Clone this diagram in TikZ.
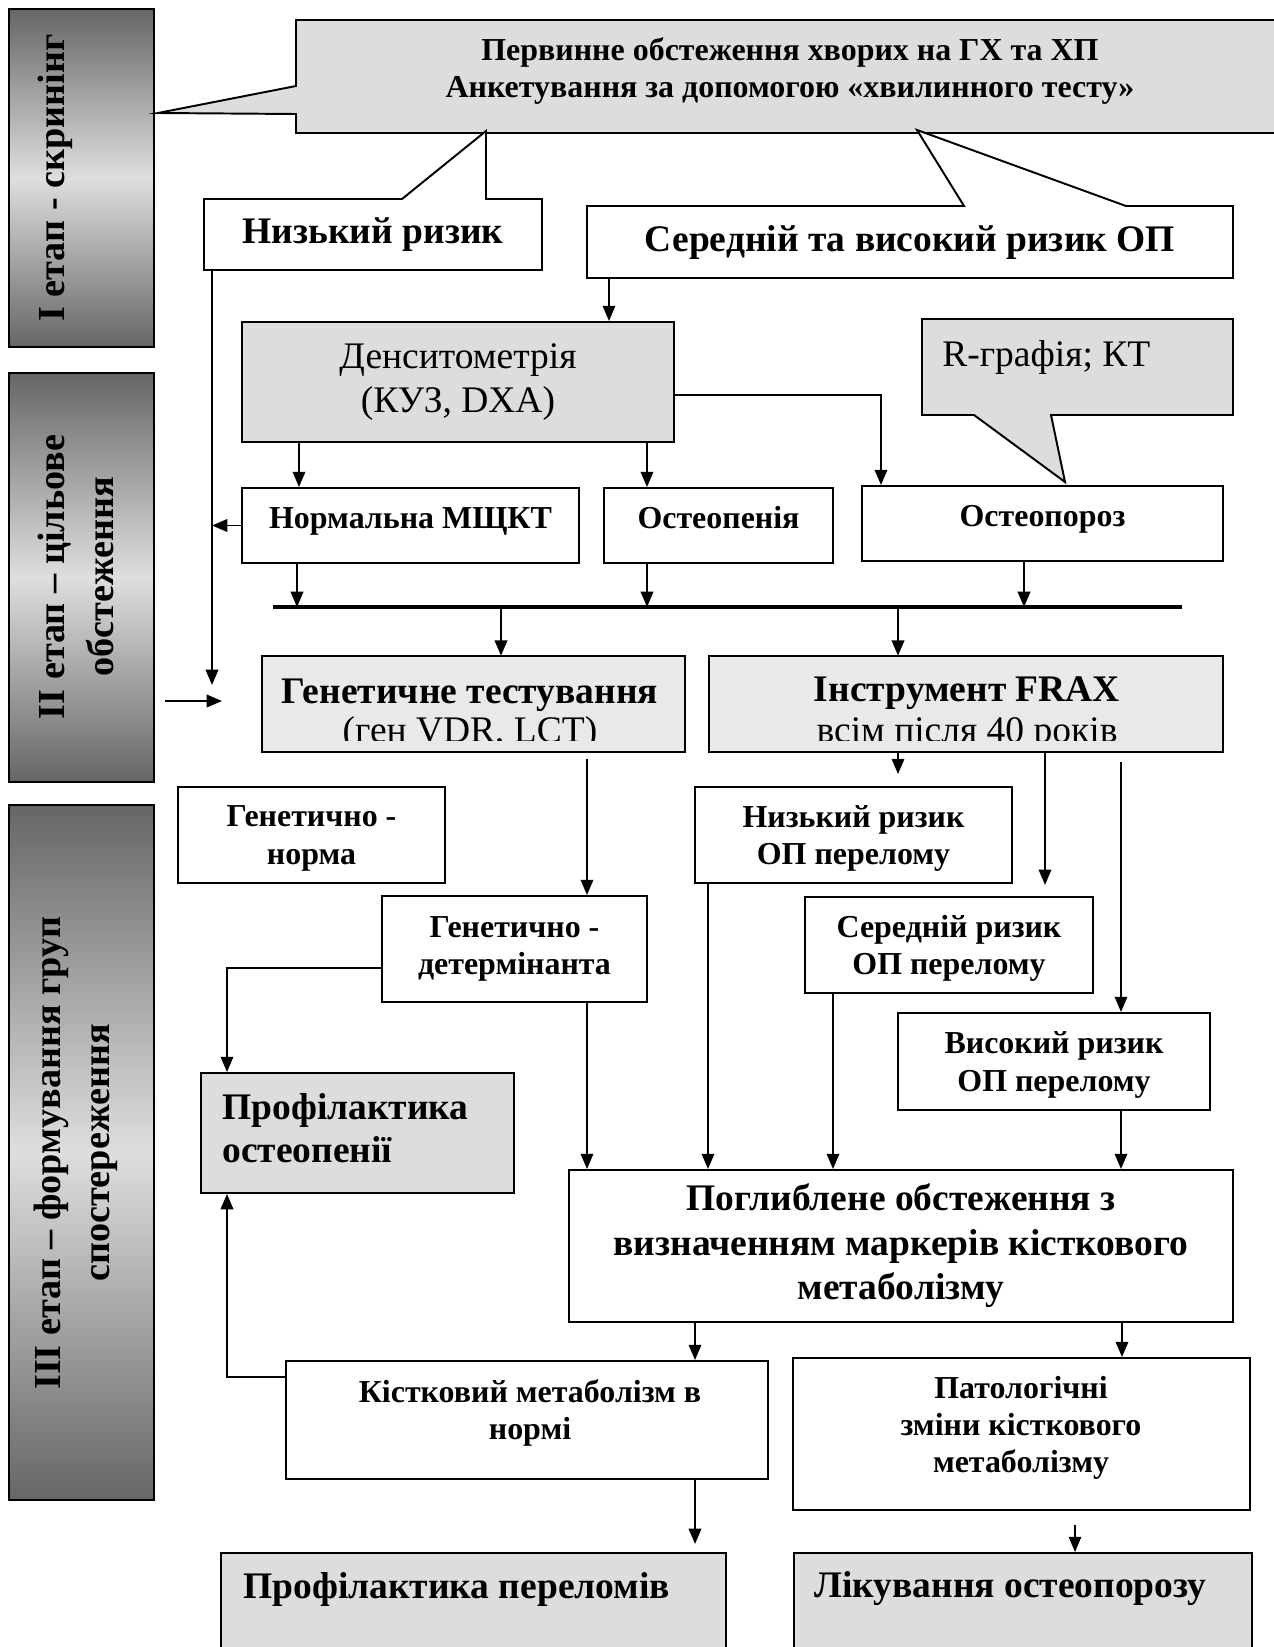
\documentclass[tikz,border=0pt]{standalone}
\usepackage{fontspec}
\setmainfont{Liberation Serif}
\usepackage{xcolor}
\usepackage{tikz}
\usetikzlibrary{arrows.meta,calc,fit}
\definecolor{stagedark}{RGB}{102,102,102}
\definecolor{stagelight}{RGB}{222,222,222}
\definecolor{boxgray}{RGB}{221,221,221}
\definecolor{testgray}{RGB}{233,233,233}

\begin{document}
\begin{tikzpicture}[x=0.72pt,y=-0.72pt,
    every node/.style={inner sep=0pt},
    wh/.style 2 args={minimum width=#1*0.72pt,minimum height=#2*0.72pt},
    box/.style={draw,line width=1.4pt,fill=white},
    graybox/.style={box,fill=boxgray},
    stage/.style={draw,line width=1.4pt,shading=axis,top color=stagedark,bottom color=stagedark,middle color=stagelight},
    stagetext/.style={rotate=90,align=center,font=\fontsize{27.5}{35}\selectfont\bfseries},
    arr/.style={line width=1.4pt,-{Triangle[length=11pt,width=9pt]}},
    big/.style={align=center,font=\fontsize{27}{32}\selectfont\bfseries},
    mid/.style={align=center,font=\fontsize{23}{27}\selectfont\bfseries},
    oneline/.style={text height=16pt,text depth=11pt}]
    \fill[white] (0,0) rectangle (1274,1647);
    \useasboundingbox (0,0) rectangle (1274,1647);

    % stages
    \node[stage,fit={(9,9) (154,347)}] (stage1) {};
    \node[stagetext] (stage1-t) at (55,178) {I етап - скринінг};
    \node[stage,fit={(9,373) (154,782)}] (stage2) {};
    \node[stagetext] (stage2-t) at (76,577) {II етап – цільове\\обстеження};
    \node[stage,fit={(9,805) (154,1500)}] (stage3) {};
    \node[stagetext] (stage3-t) at (76,1153) {III етап – формування груп\\спостереження};

    % screening
    \filldraw[fill=boxgray,line width=1.4pt] (296,20) -- (1290,20) -- (1290,133) -- (296,133) -- (296,114) -- (158,113) -- (296,86) -- cycle;
    \node[align=center,font=\fontsize{23}{26.6}\selectfont\bfseries] (screen) at (790,71) {Первинне обстеження хворих на ГХ та ХП\\Анкетування за допомогою «хвилинного тесту»};
    \filldraw[fill=white,line width=1.4pt] (204,199) -- (402,199) -- (486,131) -- (486,199) -- (542,199) -- (542,270) -- (204,270) -- cycle;
    \node[big,wh={338}{71}] (lowrisk) at (373,234.5) {Низький ризик};
    \filldraw[fill=white,line width=1.4pt] (587,206) -- (964,206) -- (917,130) -- (1126,206) -- (1233,206) -- (1233,278) -- (587,278) -- cycle;
    \node[big,wh={646}{72}] (midrisk) at (910,242) {Середній та високий ризик ОП};

    % densitometry
    \node[graybox,wh={432}{120},align=center,font=\fontsize{27}{31.7}\selectfont] (densi) at (458,382) {Денситометрія\\(КУЗ, DXA)};
    \filldraw[fill=boxgray,line width=1.4pt] (922,319) -- (1233,319) -- (1233,415) -- (1051,415) -- (1065,482) -- (974,415) -- (922,415) -- cycle;
    \node[anchor=west,font=\fontsize{27}{32}\selectfont] (rgraph) at (942,357) {R-графія; КТ};
    \node[box,mid,oneline,wh={337}{75}] (normal) at (410.5,525.5) {Нормальна МЩКТ};
    \node[box,mid,oneline,wh={229}{75}] (openia) at (718.5,525.5) {Остеопенія};
    \node[box,mid,oneline,wh={361}{75}] (oporoz) at (1042.5,523.5) {Остеопороз};
    \coordinate (busL) at (273,607);
    \coordinate (busR) at (1182,607);
    \draw[line width=3pt] (busL) -- (busR);

    \node[fill=testgray,fit={(262,656) (685,752)}] (gentest) {};
    \begin{scope}
      \clip (262,656) rectangle (685,740);
      \node[big,anchor=base,font=\fontsize{27}{28}\selectfont\bfseries] (gentest-t) at (470,742) {Генетичне тестування\\\mdseries (ген VDR, LCT)};
    \end{scope}
    \draw[line width=1.4pt] (gentest.north west) rectangle (gentest.south east);
    \node[fill=testgray,fit={(709,656) (1223,752)}] (frax) {};
    \begin{scope}
      \clip (709,656) rectangle (1223,740);
      \node[big,anchor=base,font=\fontsize{27}{29.5}\selectfont\bfseries] (frax-t) at (967,742) {Інструмент FRAX\\\mdseries всім після 40 років};
    \end{scope}
    \draw[line width=1.4pt] (frax.north west) rectangle (frax.south east);

    % groups
    \node[box,mid,text depth=0pt,wh={267}{96}] (gennorm) at (311.5,835) {Генетично -\\норма};
    \node[box,mid,wh={265}{106}] (gendet) at (514.5,949) {Генетично -\\детермінанта};
    \node[box,mid,text depth=0pt,wh={317}{96}] (lowfr) at (853.5,835) {Низький ризик\\ОП перелому};
    \node[box,mid,text depth=0pt,wh={288}{96}] (midfr) at (949,945) {Середній ризик\\ОП перелому};
    \node[box,mid,text depth=0pt,wh={312}{97}] (highfr) at (1054,1061.5) {Високий ризик\\ОП перелому};
    \node[graybox,fit={(201,1073) (514,1193)}] (prevop) {};
    \node[big,align=left,anchor=west,font=\fontsize{27}{31}\selectfont\bfseries] (prevop-t) at (222,1128) {Профілактика\\остеопенії};
    \node[box,big,wh={664}{152}] (deepex) at (901,1246) {Поглиблене обстеження з\\визначенням маркерів кісткового\\метаболізму};
    \node[box,fit={(286,1361) (768,1479)}] (bmnorm) {};
    \node[mid,font=\fontsize{23}{26}\selectfont\bfseries] (bmnorm-t) at (530,1413) {Кістковий метаболізм в\\нормі};
    \node[box,fit={(793,1358) (1250,1510)}] (pathol) {};
    \node[mid,font=\fontsize{23}{26.6}\selectfont\bfseries] (pathol-t) at (1021,1428) {Патологічні\\зміни кісткового\\метаболізму};
    \node[graybox,fit={(221,1553) (726,1665)}] (prevfr) {};
    \node[big,anchor=west] (prevfr-t) at (243,1589) {Профілактика переломів};
    \node[graybox,fit={(794,1553) (1252,1665)}] (treat) {};
    \node[big,anchor=west] (treat-t) at (814,1589) {Лікування остеопорозу};

    % connectors
    \coordinate (lowend) at (212,685);
    \coordinate (stagein) at (165,701);
    \coordinate (stageout) at (222,701);
    \draw[arr] (609,0 |- midrisk.south) -- (609,0 |- densi.north);
    \draw[arr] (212,0 |- lowrisk.south) -- (lowend);
    \draw[arr] (normal.west) -- (212,0 |- normal.west);
    \draw[arr] (stagein) -- (stageout);
    \draw[arr] (299,0 |- densi.south) -- (299,0 |- normal.north);
    \draw[arr] (647,0 |- densi.south) -- (647,0 |- openia.north);
    \draw[arr] (densi.east |- 0,395) -| (881,0 |- oporoz.north);
    \draw[arr] (297,0 |- normal.south) -- (297,0 |- busL);
    \draw[arr] (647,0 |- openia.south) -- (647,0 |- busL);
    \draw[arr] (1024,0 |- oporoz.south) -- (1024,0 |- busL);
    \draw[arr] (501,0 |- busL) -- (501,0 |- gentest.north);
    \draw[arr] (898,0 |- busL) -- (898,0 |- frax.north);
    \draw[arr,shorten >=8.6pt] (898,0 |- frax.south) -- (898,0 |- lowfr.north);
    \draw[arr,shorten >=8pt] (1045,0 |- frax.south) -- (1045,0 |- midfr.north);
    \draw[arr,shorten <=7pt] (1121,0 |- frax.south) -- (1121,0 |- highfr.north);
    \draw[arr,shorten <=4.5pt] (587,0 |- gentest.south) -- (587,0 |- gendet.north);
    \draw[arr] (gendet.west |- 0,968) -| (227,0 |- prevop.north);
    \draw[arr] (587,0 |- gendet.south) -- (587,0 |- deepex.north);
    \draw[arr] (708,0 |- lowfr.south) -- (708,0 |- deepex.north);
    \draw[arr] (833,0 |- midfr.south) -- (833,0 |- deepex.north);
    \draw[arr] (1121,0 |- highfr.south) -- (1121,0 |- deepex.north);
    \draw[arr] (695,0 |- deepex.south) -- (695,0 |- bmnorm.north);
    \draw[arr] (1122,0 |- deepex.south) -- (1122,0 |- pathol.north);
    \draw[arr] (bmnorm.west |- 0,1377) -| (227,0 |- prevop.south);
    \draw[arr,shorten >=5.8pt] (695,0 |- bmnorm.south) -- (695,0 |- prevfr.north);
    \draw[arr,line width=0.9pt,shorten <=10pt] (1075,0 |- pathol.south) -- (1075,0 |- treat.north);
  \end{tikzpicture}
\end{document}
